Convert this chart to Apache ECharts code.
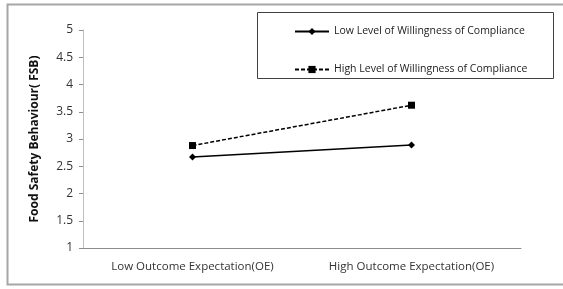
<!DOCTYPE html>
<html>
<head>
<meta charset="utf-8">
<script src="https://cdn.jsdelivr.net/npm/echarts@6/dist/echarts.min.js"></script>
<style>
  html, body { margin: 0; padding: 0; background: #fff; }
  #chart { width: 563px; height: 289px; }
</style>
</head>
<body>
<div id="chart"></div>
<script>
var categories = ['Low Outcome Expectation(OE)', 'High Outcome Expectation(OE)']
var lowWillingness = [2.67, 2.89]
var highWillingness = [2.88, 3.62]
var seriesNames = ['Low Level of Willingness of Compliance', 'High Level of Willingness of Compliance']

var fontFamily = '"Open Sans", "Noto Sans", sans-serif'
var chart = echarts.init(document.getElementById('chart'))

chart.setOption({
  animation: false,
  textStyle: { fontFamily: fontFamily },
  graphic: [{
    type: 'rect',
    shape: { x: 7.5, y: 4.5, width: 570, height: 280 },
    style: { fill: 'none', stroke: '#a6a6a6', lineWidth: 2 },
    silent: true
  }, {
    type: 'rect',
    shape: { x: 257.5, y: 12.5, width: 296, height: 66 },
    style: { fill: '#fff', stroke: '#404040', lineWidth: 1 },
    silent: true
  }],
  legend: {
    orient: 'vertical',
    left: 289,
    top: 21,
    itemWidth: 34,
    itemHeight: 9,
    itemGap: 27,
    textStyle: { color: '#222', fontSize: 10.5, fontFamily: fontFamily },
    data: seriesNames
  },
  grid: { left: 83, right: 42, top: 30, bottom: 41 },
  xAxis: {
    type: 'category',
    data: categories,
    boundaryGap: true,
    axisLine: { lineStyle: { color: '#8c8c8c' } },
    axisTick: { length: 4, lineStyle: { color: '#8c8c8c' } },
    axisLabel: { color: '#333', fontSize: 11.5, margin: 13, interval: 0 }
  },
  yAxis: {
    type: 'value',
    min: 1,
    max: 5,
    interval: 0.5,
    name: 'Food Safety Behaviour( FSB)',
    nameLocation: 'middle',
    nameGap: 42,
    nameTextStyle: { color: '#111', fontSize: 12, fontWeight: 'bold' },
    axisLine: { show: true, lineStyle: { color: '#bfbfbf' } },
    axisTick: { show: true, length: 4, lineStyle: { color: '#8c8c8c' } },
    axisLabel: { color: '#333', fontSize: 12, margin: 10 },
    splitLine: { show: false }
  },
  series: [{
    name: seriesNames[0],
    type: 'line',
    data: lowWillingness,
    symbol: 'diamond',
    symbolSize: 7,
    color: '#000',
    lineStyle: { color: '#000', width: 1.5, type: 'solid' },
    itemStyle: { color: '#000' }
  }, {
    name: seriesNames[1],
    type: 'line',
    data: highWillingness,
    symbol: 'rect',
    symbolSize: 7,
    color: '#000',
    lineStyle: { color: '#000', width: 1.5, type: [4, 2] },
    itemStyle: { color: '#000' }
  }]
})
</script>
</body>
</html>
